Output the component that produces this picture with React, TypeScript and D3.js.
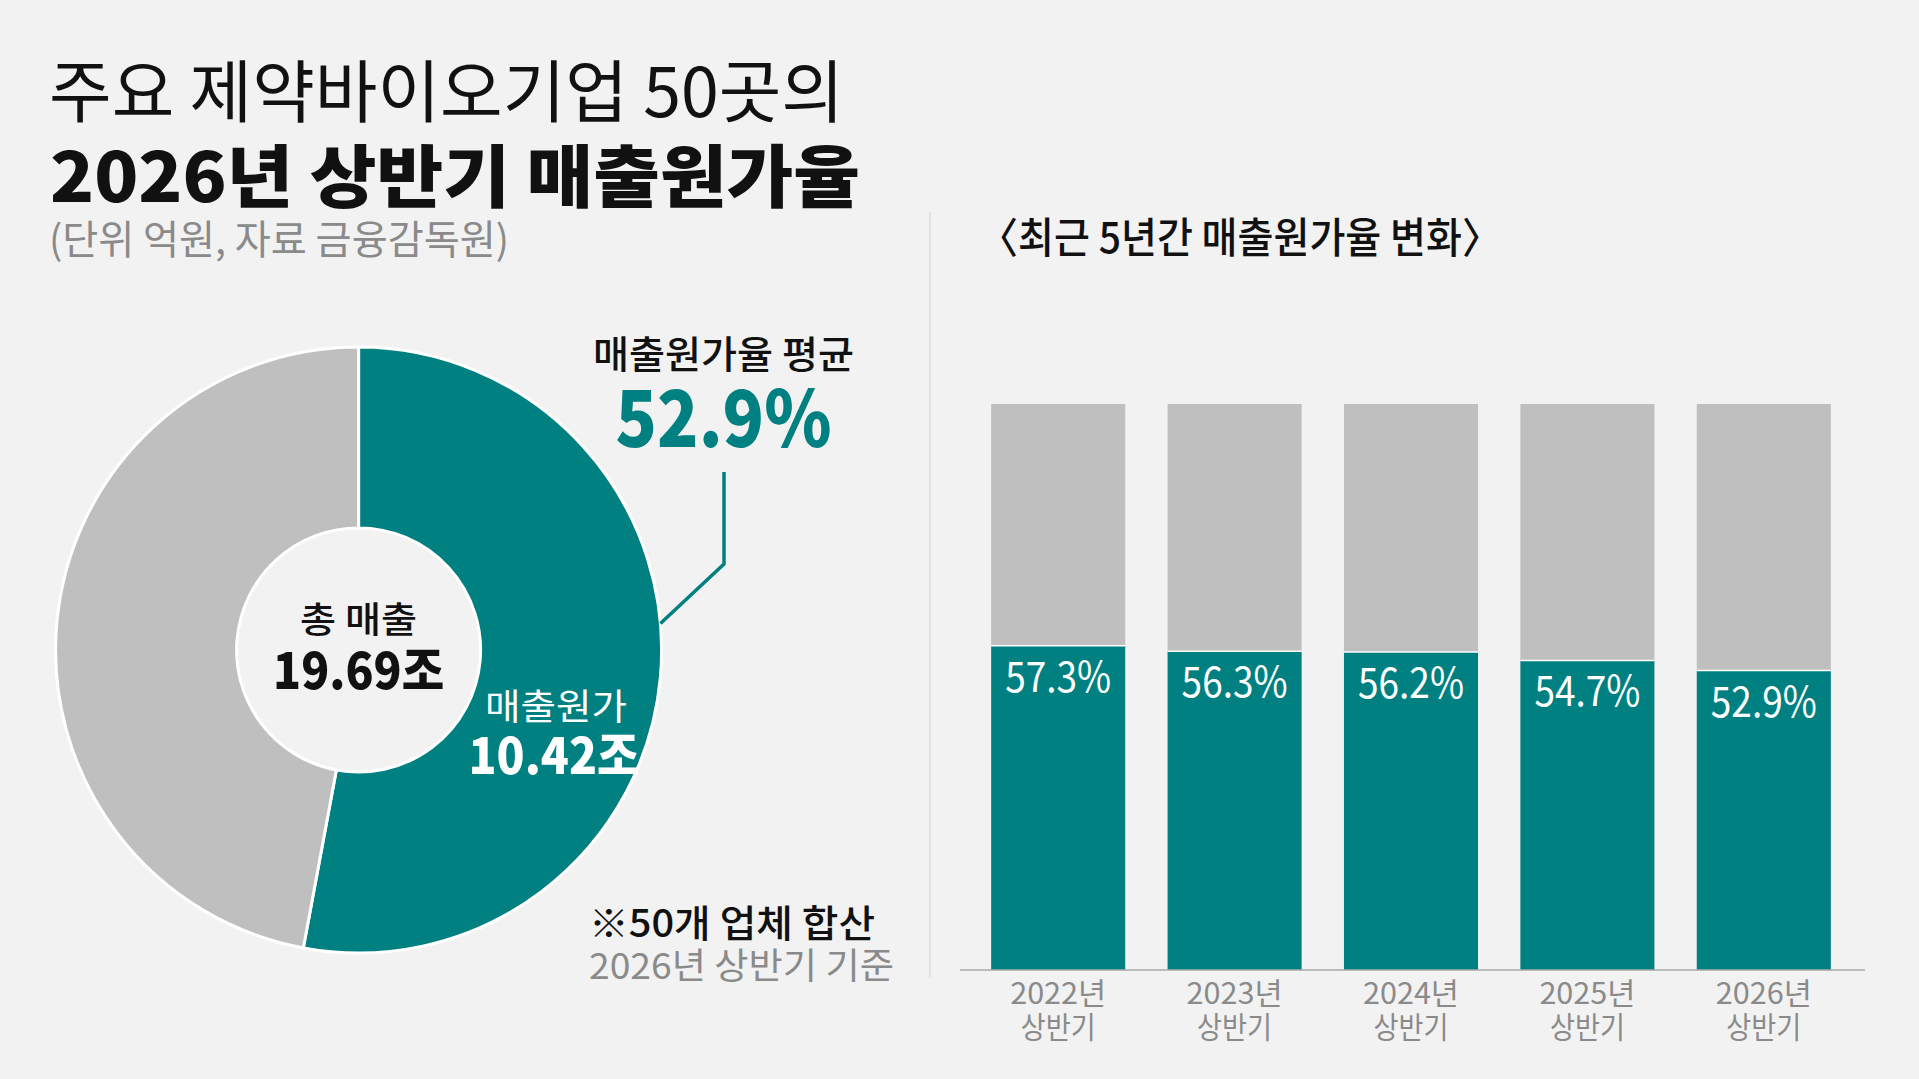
import React, { useRef, useEffect } from 'react';
import * as d3 from 'd3';

const W = 1919;
const H = 1079;
const FONT = '"Noto Sans CJK KR", "Noto Sans", sans-serif';

const TEAL = '#008080';
const GRAY = '#bfbfbf';
const BG = '#f2f2f2';

// donut values (조원)
const totalSales = 19.69;
const costOfSales = 10.42;
const donutValues = [costOfSales, totalSales - costOfSales];
const donutColors = [TEAL, GRAY];

// bar chart
const periods = ['2022년', '2023년', '2024년', '2025년', '2026년'];
const periodSub = ['상반기', '상반기', '상반기', '상반기', '상반기'];
const costRatio = [57.3, 56.3, 56.2, 54.7, 52.9];

const App: React.FC = () => {
  const ref = useRef<SVGSVGElement | null>(null);

  useEffect(() => {
    document.body.style.margin = '0';
    const svg = d3.select(ref.current);
    svg.selectAll('*').remove();

    svg.append('rect').attr('width', W).attr('height', H).attr('fill', BG);

    const txt = (
      x: number, y: number, s: string, size: number, opts: {
        weight?: number; fill?: string; anchor?: string; len?: number;
      } = {}
    ) => {
      const t = svg.append('text')
        .attr('x', x)
        .attr('y', y)
        .attr('font-family', FONT)
        .attr('font-size', size)
        .attr('font-weight', opts.weight ?? 400)
        .attr('fill', opts.fill ?? '#111')
        .attr('text-anchor', opts.anchor ?? 'start')
        .text(s);
      if (opts.len) t.attr('textLength', opts.len).attr('lengthAdjust', 'spacingAndGlyphs');
      return t;
    };

    // titles
    txt(49, 117, '주요 제약바이오기업 50곳의', 68, { weight: 400, len: 795 });
    txt(50, 202, '2026년 상반기 매출원가율', 68, { weight: 900, len: 810 });
    txt(49, 254, '(단위 억원, 자료 금융감독원)', 40, { fill: '#8a8a8a', len: 460 });

    // divider
    svg.append('line')
      .attr('x1', 930).attr('x2', 930).attr('y1', 212).attr('y2', 977)
      .attr('stroke', '#dcdcdc').attr('stroke-width', 1.5);

    // donut
    const cx = 358.6;
    const cy = 650;
    const outerR = 303;
    const innerR = 122;
    const pie = d3.pie<number>().sort(null).value((d) => d);
    const arc = d3.arc<d3.PieArcDatum<number>>().innerRadius(innerR).outerRadius(outerR);
    const g = svg.append('g').attr('transform', `translate(${cx},${cy})`);
    pie(donutValues).forEach((d, i) => {
      g.append('path')
        .attr('d', arc(d)!)
        .attr('fill', donutColors[i])
        .attr('stroke', '#ffffff')
        .attr('stroke-width', 3);
    });

    txt(cx, 633, '총 매출', 36, { weight: 500, anchor: 'middle', len: 117 });
    txt(cx, 689, `${totalSales.toFixed(2)}조`, 50, { weight: 900, anchor: 'middle', len: 171 });
    txt(556, 720, '매출원가', 36, { weight: 400, fill: '#ffffff', anchor: 'middle', len: 142 });
    txt(554, 774, `${costOfSales.toFixed(2)}조`, 50, { weight: 900, fill: '#ffffff', anchor: 'middle', len: 171 });

    // callout
    const avg = costRatio[costRatio.length - 1];
    txt(723.5, 368, '매출원가율 평균', 38, { weight: 500, anchor: 'middle', len: 261 });
    txt(723.5, 447, `${avg.toFixed(1)}%`, 78, { weight: 900, fill: TEAL, anchor: 'middle', len: 216 });
    const [ex, ey] = d3.pointRadial((85 * Math.PI) / 180, outerR);
    svg.append('path')
      .attr('d', `M724,472 L724,564 L${cx + ex},${cy + ey}`)
      .attr('fill', 'none')
      .attr('stroke', TEAL)
      .attr('stroke-width', 3.5);

    txt(589, 937, '※50개 업체 합산', 38, { weight: 500, len: 286 });
    txt(589, 979, '2026년 상반기 기준', 36, { fill: '#8a8a8a', len: 305 });

    // bar chart
    txt(979, 253, '〈최근 5년간 매출원가율 변화〉', 42, { weight: 500, len: 522 });

    const x = d3.scaleBand<string>()
      .domain(periods)
      .range([970, 1852])
      .paddingInner(0.24)
      .paddingOuter(0.12);
    const y = d3.scaleLinear().domain([0, 100]).range([970, 404]);

    const bars = svg.append('g');
    periods.forEach((p, i) => {
      const bx = x(p)!;
      const bw = x.bandwidth();
      bars.append('rect')
        .attr('x', bx).attr('width', bw)
        .attr('y', y(100)).attr('height', y(costRatio[i]) - y(100))
        .attr('fill', GRAY);
      bars.append('rect')
        .attr('x', bx).attr('width', bw)
        .attr('y', y(costRatio[i])).attr('height', y(0) - y(costRatio[i]))
        .attr('fill', TEAL);
      bars.append('line')
        .attr('x1', bx).attr('x2', bx + bw)
        .attr('y1', y(costRatio[i])).attr('y2', y(costRatio[i]))
        .attr('stroke', '#ffffff').attr('stroke-width', 1.5);
      txt(bx + bw / 2, y(costRatio[i]) + 46, `${costRatio[i].toFixed(1)}%`, 42, {
        fill: '#ffffff', anchor: 'middle', len: 106,
      });
      txt(bx + bw / 2, 1004, p, 30, { fill: '#8a8a8a', anchor: 'middle', len: 96 });
      txt(bx + bw / 2, 1038, periodSub[i], 30, { fill: '#8a8a8a', anchor: 'middle', len: 75 });
    });

    svg.append('line')
      .attr('x1', 960).attr('x2', 1865).attr('y1', y(0)).attr('y2', y(0))
      .attr('stroke', '#a8a8a8').attr('stroke-width', 1.5);
  }, []);

  return (
    <svg
      ref={ref}
      width={W}
      height={H}
      style={{ position: 'absolute', left: 0, top: 0, display: 'block' }}
    />
  );
};

export default App;
